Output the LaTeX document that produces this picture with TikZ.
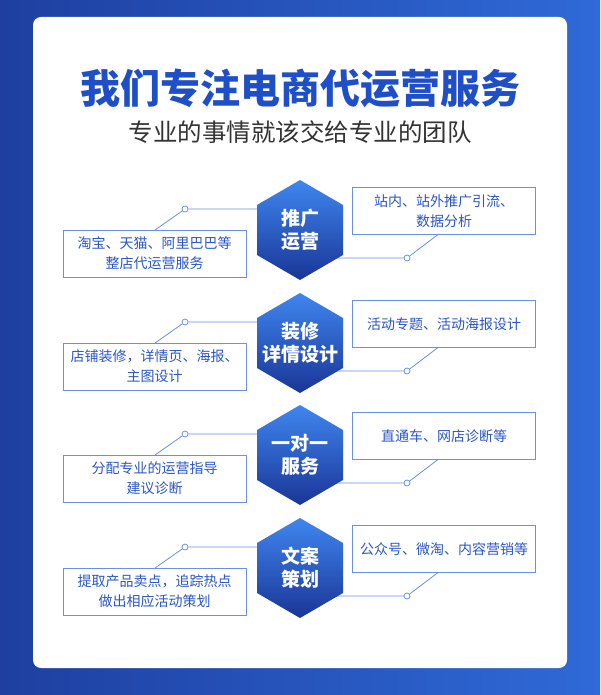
\documentclass[tikz,border=0pt]{standalone}
\usepackage{fontspec}
\setmainfont{Noto Sans CJK SC}
\usetikzlibrary{shadings}
\definecolor{bgA}{HTML}{1E3FA0}
\definecolor{bgB}{HTML}{2F6AD8}
\definecolor{ttl}{HTML}{1F4FC8}
\definecolor{bxt}{HTML}{2A56C6}
\definecolor{bxl}{HTML}{6A90E6}
\definecolor{hexA}{HTML}{3F86F0}
\definecolor{hexB}{HTML}{1A3596}
\tikzset{
  infobox/.style={draw=bxl,line width=0.8pt,fill=white,minimum width=183pt,minimum height=47pt,align=center,text=bxt,font=\fontsize{14}{20}\selectfont,inner sep=0pt},
  conn/.style={draw=bxl,line width=0.8pt},
  dot/.style={circle,draw=bxl,fill=white,line width=0.8pt,minimum size=6pt,inner sep=0pt},
  hexlbl/.style={text=white,font=\bfseries\fontsize{19}{23}\selectfont,align=center}
}
\begin{document}
\begin{tikzpicture}[x=1pt,y=-1pt]
\useasboundingbox (0,0) rectangle (600,695);
\shade[left color=bgA,right color=bgB] (0,0) rectangle (600,695);
\node[fill=white,rounded corners=8pt,minimum width=534pt,minimum height=651pt,inner sep=0pt] (card) at (300,342.5) {};
\node[text=ttl,font=\bfseries\fontsize{40}{44}\selectfont] (title) at (300,88) {我们专注电商代运营服务};
\node[text=black!80,font=\fontsize{24.5}{28}\selectfont] (sub) at (300,132) {专业的事情就该交给专业的团队};
\foreach \cy/\hl/\lt/\rt [count=\i] in {
 230/{推广\\运营}/{淘宝、天猫、阿里巴巴等\\整店代运营服务}/{站内、站外推广引流、\\数据分析},
 343/{装修\\详情设计}/{店铺装修，详情页、海报、\\主图设计}/{活动专题、活动海报设计},
 455/{一对一\\服务}/{分配专业的运营指导\\建议诊断}/{直通车、网店诊断等},
 568/{文案\\策划}/{提取产品卖点，追踪热点\\做出相应活动策划}/{公众号、微淘、内容营销等}}{
  \node[infobox] (L\i) at (154.5,\cy+23.5) {\lt};
  \node[infobox] (R\i) at (444,\cy-19) {\rt};
  \node[dot] (dl\i) at (185,\cy-21) {};
  \node[dot] (dr\i) at (407,\cy+28) {};
  \coordinate (hl\i) at (270,\cy-21);
  \coordinate (hr\i) at (330,\cy+28);
  \coordinate (lt\i) at (155,\cy);
  \coordinate (rb\i) at (438,\cy+4.5);
  \draw[conn] (hl\i) -- (dl\i) -- (lt\i);
  \draw[conn] (hr\i) -- (dr\i) -- (rb\i);
  \shade[top color=hexA,bottom color=hexB] (300,\cy-50) -- (343,\cy-25) -- (343,\cy+25) -- (300,\cy+50) -- (257,\cy+25) -- (257,\cy-25) -- cycle;
  \node[hexlbl] (H\i) at (300,\cy) {\hl};
}
\end{tikzpicture}
\end{document}
